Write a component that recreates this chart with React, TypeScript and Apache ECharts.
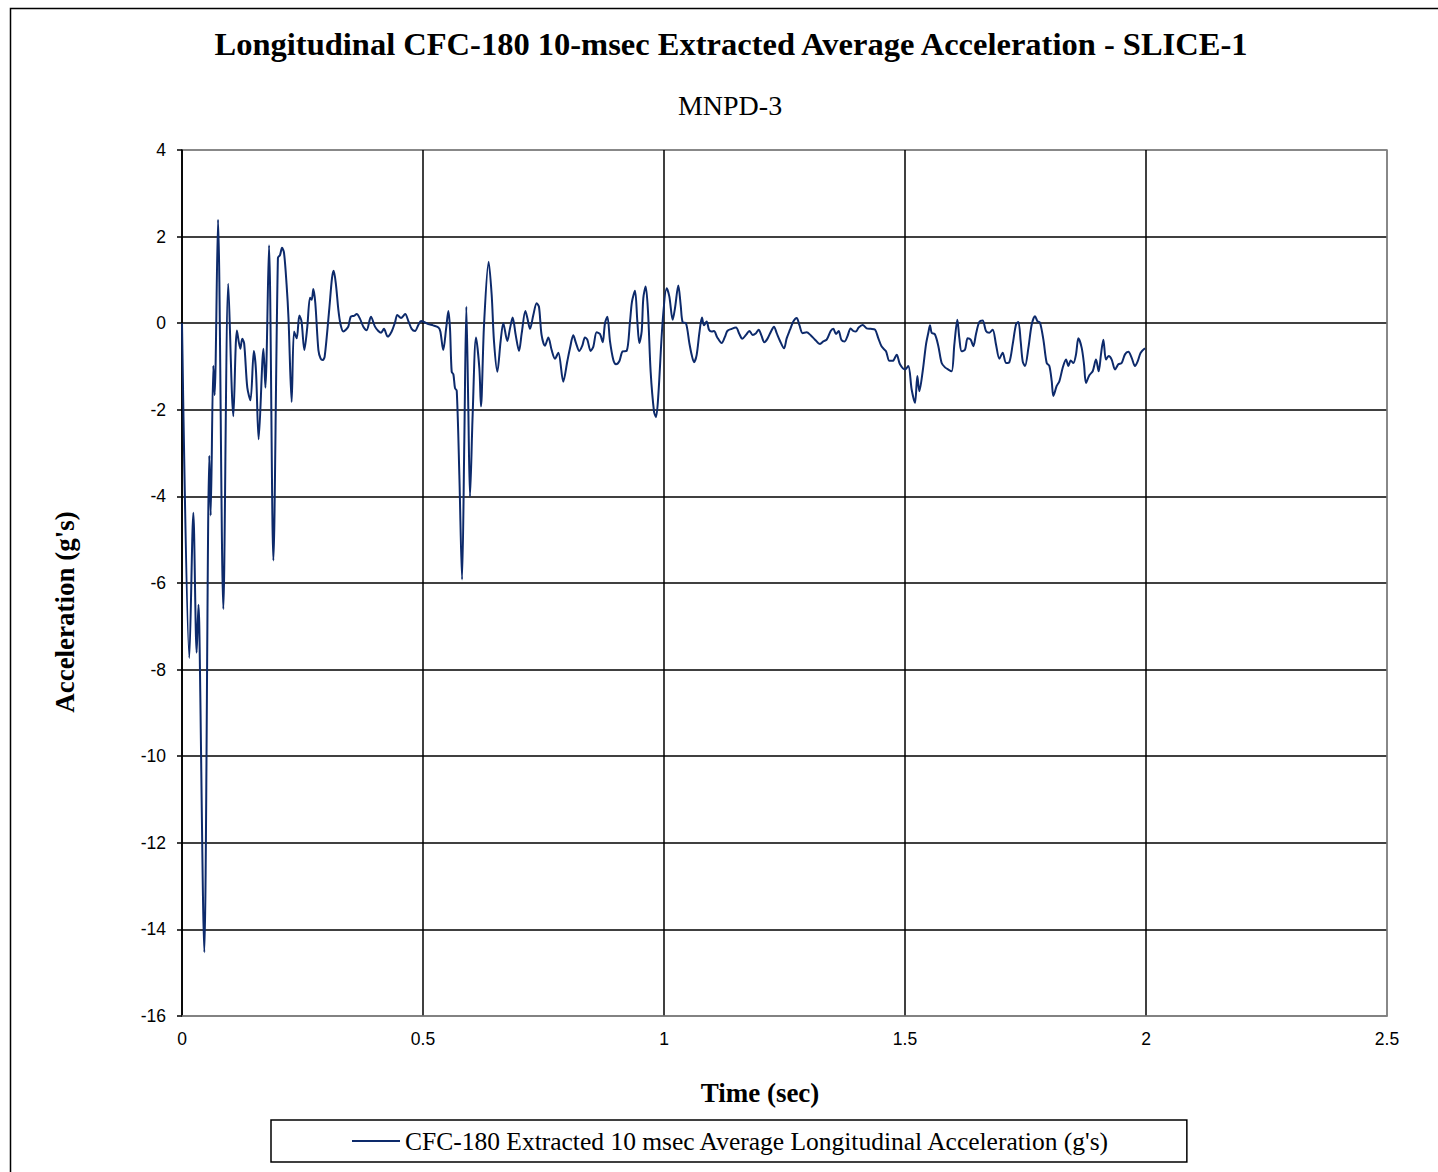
import React, { useEffect, useRef } from "react";
import * as echarts from "echarts";

const TITLE = "Longitudinal CFC-180 10-msec Extracted Average Acceleration - SLICE-1";
const SUBTITLE = "MNPD-3";
const X_NAME = "Time (sec)";
const Y_NAME = "Acceleration (g's)";
const SERIES_NAME = "CFC-180 Extracted 10 msec Average Longitudinal Acceleration (g's)";

const X_TICKS = [0, 0.5, 1, 1.5, 2, 2.5];
const Y_TICKS = [-16, -14, -12, -10, -8, -6, -4, -2, 0, 2, 4];

const time: number[] = [
  0, 0.0152, 0.0235, 0.0304, 0.0342, 0.036, 0.0463, 0.0567, 0.0595, 0.065, 0.0677, 0.0747, 0.0857, 0.096, 0.1065,
  0.114, 0.121, 0.125, 0.129, 0.1355, 0.142, 0.149, 0.1535, 0.159, 0.169, 0.173, 0.1805, 0.1895, 0.199, 0.2033,
  0.2075, 0.2116, 0.217, 0.221, 0.2275, 0.2324, 0.238, 0.2435, 0.248, 0.2538, 0.26, 0.2656, 0.269, 0.2725, 0.2766,
  0.283, 0.2877, 0.292, 0.296, 0.3057, 0.3112, 0.3147, 0.3195, 0.3244, 0.3292, 0.3347, 0.34, 0.345, 0.35, 0.3568,
  0.3624, 0.3693, 0.3762, 0.383, 0.392, 0.4004, 0.4073, 0.413, 0.419, 0.4267, 0.435, 0.442, 0.4467, 0.4544, 0.463,
  0.4696, 0.4765, 0.4835, 0.4903, 0.496, 0.5, 0.511, 0.521, 0.532, 0.536, 0.542, 0.548, 0.5526, 0.556, 0.5595,
  0.563, 0.5664, 0.57, 0.5754, 0.581, 0.5857, 0.5899, 0.594, 0.5975, 0.603, 0.6100, 0.6169, 0.6203, 0.6266, 0.6362,
  0.6425, 0.6473, 0.6542, 0.661, 0.6666, 0.6749, 0.6805, 0.686, 0.6923, 0.6992, 0.7048, 0.7124, 0.7165, 0.722,
  0.7289, 0.7358, 0.7406, 0.746, 0.753, 0.76, 0.7669, 0.7738, 0.7808, 0.791, 0.7994, 0.8049, 0.8118, 0.8174,
  0.8243, 0.8305, 0.836, 0.8409, 0.8478, 0.8534, 0.8603, 0.8672, 0.8728, 0.8776, 0.8825, 0.888, 0.8949, 0.9004,
  0.9073, 0.9142, 0.9225, 0.9295, 0.9336, 0.9398, 0.9447, 0.9488, 0.9537, 0.9571, 0.962, 0.9668, 0.9723, 0.9793,
  0.9834, 0.9883, 0.9972, 1.0055, 1.011, 1.018, 1.0228, 1.0297, 1.0346, 1.0387, 1.0456, 1.0526, 1.0574, 1.0622,
  1.0678, 1.0733, 1.0788, 1.083, 1.0885, 1.0934, 1.099, 1.1037, 1.1106, 1.1196, 1.1266, 1.1314, 1.1404, 1.1494,
  1.1563, 1.1625, 1.1701, 1.1771, 1.184, 1.1909, 1.1964, 1.202, 1.2082, 1.2151, 1.222, 1.2282, 1.2338, 1.2407,
  1.249, 1.2545, 1.2614, 1.2683, 1.2753, 1.2808, 1.2877, 1.296, 1.3043, 1.3133, 1.3237, 1.3306, 1.3375, 1.3458,
  1.3513, 1.3568, 1.3624, 1.3679, 1.3748, 1.3803, 1.3873, 1.3928, 1.3983, 1.4039, 1.4122, 1.4205, 1.4288, 1.4378,
  1.4447, 1.4516, 1.4606, 1.4676, 1.4745, 1.4828, 1.4896, 1.5, 1.5069, 1.5138, 1.5207, 1.5256, 1.5297, 1.5367,
  1.5436, 1.5484, 1.5519, 1.5553, 1.5622, 1.5692, 1.5761, 1.583, 1.5899, 1.5968, 1.6024, 1.6086, 1.6127, 1.6176,
  1.6245, 1.63, 1.6362, 1.6418, 1.6473, 1.6542, 1.6611, 1.668, 1.675, 1.6819, 1.6888, 1.6958, 1.7027, 1.7096,
  1.7165, 1.7234, 1.7303, 1.7352, 1.74, 1.7442, 1.749, 1.756, 1.7629, 1.7698, 1.7746, 1.7801, 1.7871, 1.794,
  1.7995, 1.8044, 1.8078, 1.8147, 1.8203, 1.8272, 1.8341, 1.839, 1.8438, 1.8493, 1.8548, 1.8597, 1.8666, 1.8714,
  1.8755, 1.8825, 1.8894, 1.8963, 1.9018, 1.9066, 1.9115, 1.917, 1.9225, 1.9288, 1.9357, 1.9426, 1.9495, 1.9564,
  1.9634, 1.9703, 1.9772, 1.9827, 1.989, 1.9979,
];

const accel: number[] = [
  0, -7.73, -4.38, -7.61, -6.5, -7.05, -14.53, -3.06, -4.44, -0.98, -1.66, 2.39, -6.6, 0.91, -2.15,
  -0.17, -0.59, -0.36, -0.47, -1.49, -1.78, -0.64, -1.1, -2.68, -0.59, -1.49, 1.8, -5.48, 1.51, 1.57,
  1.74, 1.63, 0.89, 0.1, -1.82, -0.19, -0.35, 0.18, 0.04, -0.62, -0.08, 0.59, 0.54, 0.79, 0.46,
  -0.62, -0.82, -0.85, -0.77, 0.35, 1.04, 1.21, 0.88, 0.31, -0.04, -0.19, -0.15, -0.08, 0.15, 0.17,
  0.21, 0.1, -0.08, -0.16, 0.15, -0.08, -0.18, -0.22, -0.13, -0.31, -0.19, 0.02, 0.19, 0.12, 0.21,
  0.05, -0.13, -0.18, -0.04, 0.05, 0.04, -0.02, -0.05, -0.1, -0.19, -0.62, -0.12, 0.28, -0.12, -1.12,
  -1.18, -1.5, -1.56, -3.5, -5.92, -2.73, 0.38, -1.96, -4.0, -2.12, -0.33, -1.04, -1.92, -0.04, 1.42,
  0.65, -0.42, -1.12, -0.42, 0, -0.41, -0.12, 0.13, -0.27, -0.64, -0.23, 0.28, 0.12, -0.13,
  0.19, 0.46, 0.38, -0.27, -0.52, -0.33, -0.62, -0.82, -0.68, -1.35, -0.88, -0.58, -0.28, -0.46,
  -0.64, -0.52, -0.33, -0.38, -0.64, -0.54, -0.21, -0.25, -0.44, 0, 0.15, -0.42, -0.85, -0.95,
  -0.88, -0.65, -0.64, 0.04, 0.5, 0.75, 0.04, -0.46, -0.19, 0.58, 0.85, 0.27, -1.12, -2.04,
  -2.17, -1.65, 0.04, 0.81, 0.62, 0.08, 0.35, 0.87, 0.42, 0.02, 0, -0.46, -0.73, -0.9,
  -0.73, -0.23, 0.13, -0.05, 0.04, -0.15, -0.19, -0.18, -0.33, -0.46, -0.31, -0.18, -0.13, -0.1,
  -0.25, -0.36, -0.27, -0.18, -0.27, -0.23, -0.15, -0.28, -0.44, -0.35, -0.19, -0.08, -0.23, -0.41,
  -0.58, -0.35, -0.15, 0.04, 0.12, -0.04, -0.23, -0.21, -0.28, -0.38, -0.48, -0.42, -0.38, -0.18,
  -0.13, -0.25, -0.18, -0.38, -0.42, -0.31, -0.12, -0.18, -0.19, -0.1, -0.04, -0.12, -0.13, -0.15,
  -0.35, -0.54, -0.65, -0.87, -0.87, -0.73, -0.95, -1.07, -0.99, -1.53, -1.84, -1.22, -1.57, -1.11,
  -0.49, -0.22, -0.05, -0.22, -0.26, -0.53, -0.92, -1.02, -1.07, -1.11, -0.49, 0.08, -0.34, -0.65,
  -0.61, -0.35, -0.38, -0.53, -0.25, 0.03, 0.06, -0.18, -0.22, -0.15, -0.49, -0.82, -0.68, -0.92,
  -0.9, -0.49, -0.03, 0.03, -0.42, -0.88, -0.99, -0.57, -0.03, 0.16, 0.05, 0.01, -0.38, -0.92,
  -0.99, -1.34, -1.68, -1.45, -1.34, -1.03, -0.84, -0.99, -0.86, -0.92, -0.72, -0.35, -0.57, -0.95,
  -1.38, -1.2, -1.11, -0.84, -1.11, -0.72, -0.38, -0.84, -0.76, -0.84, -1.07, -0.95, -0.92, -0.72,
  -0.66, -0.8, -0.99, -0.88, -0.68, -0.58,
];

const SERIF = "'Liberation Serif', 'Times New Roman', serif";
const SANS = "'Liberation Sans', Arial, sans-serif";

export default function App() {
  const ref = useRef<HTMLDivElement>(null);

  useEffect(() => {
    if (!ref.current) return;
    const chart = echarts.init(ref.current, null, { renderer: "svg" });
    const data = time.map((t, i) => [t, accel[i]]);
    const xColors = X_TICKS.map((_, i) => (i === X_TICKS.length - 1 ? "#808080" : "#000000"));
    const yColors = Y_TICKS.map((_, i) => (i === 0 || i === Y_TICKS.length - 1 ? "#808080" : "#000000"));

    chart.setOption({
      animation: false,
      backgroundColor: "#ffffff",
      title: [
        {
          text: TITLE,
          left: 726,
          top: 22,
          textAlign: "center",
          textStyle: { fontFamily: SERIF, fontWeight: "bold", fontSize: 32.5, color: "#000" },
        },
        {
          text: SUBTITLE,
          left: 725,
          top: 86,
          textAlign: "center",
          textStyle: { fontFamily: SERIF, fontWeight: "normal", fontSize: 28, color: "#000" },
        },
      ],
      legend: {
        left: 271,
        top: 1120,
        orient: "horizontal",
        padding: [8, 76, 8, 81],
        borderColor: "#000",
        borderWidth: 1.5,
        backgroundColor: "#fff",
        icon: "rect",
        itemWidth: 48,
        itemHeight: 2,
        textStyle: { fontFamily: SERIF, fontSize: 25.5, color: "#000" },
        data: [SERIES_NAME],
      },
      grid: {
        left: 182,
        right: 51,
        top: 150,
        bottom: 156,
        show: true,
        borderColor: "#808080",
        borderWidth: 1.5,
        backgroundColor: "transparent",
      },
      xAxis: {
        type: "value",
        min: 0,
        max: 2.5,
        interval: 0.5,
        name: X_NAME,
        nameLocation: "middle",
        nameGap: 63,
        nameTextStyle: { fontFamily: SERIF, fontWeight: "bold", fontSize: 27, color: "#000", padding: [0, 49, 0, 0] },
        axisLine: { onZero: false, lineStyle: { color: "#808080", width: 1.5 } },
        axisTick: { show: false },
        axisLabel: {
          margin: 14,
          fontFamily: SANS,
          fontSize: 17.5,
          color: "#000",
          formatter: (v: number) => String(v),
        },
        splitLine: { show: true, lineStyle: { color: xColors, width: 1.5 } },
      },
      yAxis: {
        type: "value",
        min: -16,
        max: 4,
        interval: 2,
        name: Y_NAME,
        nameLocation: "middle",
        nameGap: 104,
        nameTextStyle: {
          fontFamily: SERIF,
          fontWeight: "bold",
          fontSize: 27,
          color: "#000",
          padding: [0, 58, 0, 0],
        },
        axisLine: { show: true, onZero: false, lineStyle: { color: "#000", width: 1.5 } },
        axisTick: { show: true, inside: false, length: 5, lineStyle: { color: "#000", width: 1.5 } },
        axisLabel: {
          margin: 16,
          fontFamily: SANS,
          fontSize: 17.5,
          color: "#000",
        },
        splitLine: { show: true, lineStyle: { color: yColors, width: 1.5 } },
      },
      graphic: [
        {
          type: "rect",
          left: 8,
          top: 6,
          shape: { width: 1460, height: 1200 },
          style: { fill: "none", stroke: "#000", lineWidth: 1.5 },
          silent: true,
          z: -10,
        },
      ],
      series: [
        {
          name: SERIES_NAME,
          type: "line",
          data,
          symbol: "none",
          smooth: 0.3,
          lineStyle: { color: "#0d2a6b", width: 2 },
          itemStyle: { color: "#0d2a6b" },
          z: 5,
        },
      ],
    });

    return () => chart.dispose();
  }, []);

  return (
    <div
      ref={ref}
      style={{ position: "absolute", left: 0, top: 0, width: 1438, height: 1172, background: "#fff" }}
    />
  );
}
